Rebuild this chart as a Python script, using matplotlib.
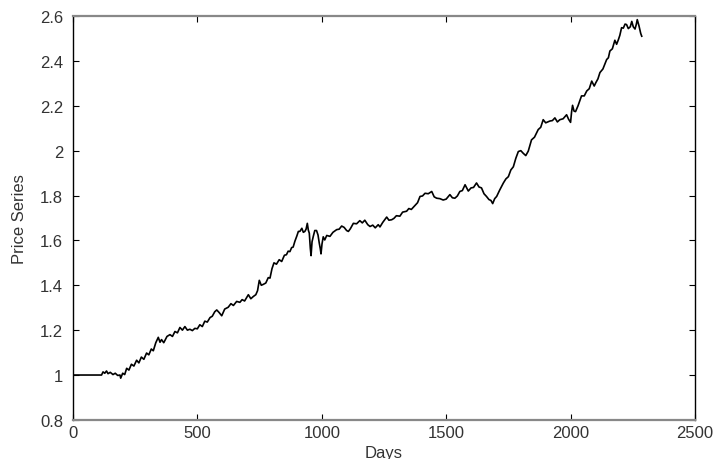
import matplotlib
matplotlib.use("Agg")
import matplotlib.pyplot as plt
from matplotlib.ticker import FuncFormatter

plt.rcParams['font.family'] = ['Liberation Sans', 'DejaVu Sans']

# price series (day, value)
days = [0, 115, 121, 128, 135, 141, 150, 161, 170, 180,
        189, 192, 200, 208, 216, 225, 235, 245, 256, 265,
        275, 285, 296, 305, 315, 323, 333, 343, 350, 356,
        365, 378, 390, 400, 410, 420, 430, 440, 450, 460,
        470, 480, 490, 500, 510, 520, 530, 540, 551, 560,
        570, 578, 588, 598, 610, 624, 635, 645, 658, 671,
        680, 690, 705, 715, 725, 735, 742, 749, 757, 765,
        775, 785, 792, 800, 808, 818, 829, 839, 850, 858,
        865, 872, 879, 885, 892, 900, 906, 912, 920, 926,
        932, 937, 942, 946, 950, 954, 957, 961, 966, 972,
        979, 985, 990, 994, 997, 1001, 1006, 1012, 1020, 1033,
        1045, 1060, 1070, 1080, 1090, 1100, 1107, 1115, 1127, 1140,
        1153, 1163, 1173, 1185, 1194, 1205, 1215, 1227, 1234, 1245,
        1261, 1270, 1281, 1290, 1300, 1314, 1325, 1341, 1350, 1360,
        1375, 1385, 1395, 1405, 1415, 1428, 1442, 1452, 1462, 1475,
        1488, 1500, 1515, 1525, 1535, 1545, 1555, 1565, 1576, 1589,
        1600, 1610, 1622, 1632, 1642, 1652, 1662, 1672, 1680, 1687,
        1695, 1703, 1715, 1730, 1740, 1750, 1760, 1770, 1780, 1790,
        1800, 1810, 1820, 1830, 1843, 1855, 1870, 1880, 1890, 1900,
        1917, 1927, 1937, 1947, 1957, 1970, 1984, 1992, 2000, 2004,
        2008, 2014, 2020, 2030, 2044, 2055, 2065, 2075, 2085, 2095,
        2102, 2110, 2118, 2130, 2145, 2152, 2158, 2168, 2178, 2185,
        2192, 2198, 2205, 2212, 2219, 2225, 2232, 2240, 2246, 2252,
        2259, 2264, 2268, 2275, 2282, 2286]

price = [1.0, 1.0, 1.014, 1.008, 1.018, 1.006, 1.012, 1.002, 1.008, 0.998,
         1.000, 0.986, 1.008, 1.002, 1.030, 1.022, 1.048, 1.040, 1.066, 1.054,
         1.080, 1.070, 1.098, 1.090, 1.116, 1.108, 1.144, 1.168, 1.146, 1.158,
         1.144, 1.172, 1.180, 1.172, 1.194, 1.188, 1.212, 1.200, 1.216, 1.200,
         1.204, 1.198, 1.208, 1.206, 1.224, 1.216, 1.240, 1.236, 1.256, 1.262,
         1.282, 1.290, 1.278, 1.264, 1.294, 1.302, 1.318, 1.310, 1.328, 1.324,
         1.336, 1.330, 1.358, 1.340, 1.350, 1.358, 1.376, 1.422, 1.400, 1.404,
         1.410, 1.434, 1.432, 1.474, 1.500, 1.494, 1.514, 1.506, 1.534, 1.536,
         1.552, 1.550, 1.568, 1.570, 1.596, 1.620, 1.640, 1.640, 1.654, 1.636,
         1.640, 1.650, 1.676, 1.646, 1.632, 1.566, 1.532, 1.594, 1.618, 1.644,
         1.644, 1.624, 1.588, 1.564, 1.540, 1.584, 1.616, 1.602, 1.622, 1.618,
         1.636, 1.648, 1.650, 1.664, 1.658, 1.644, 1.640, 1.652, 1.676, 1.674,
         1.688, 1.678, 1.690, 1.670, 1.662, 1.668, 1.656, 1.670, 1.660, 1.680,
         1.704, 1.690, 1.692, 1.698, 1.710, 1.708, 1.726, 1.730, 1.742, 1.738,
         1.756, 1.768, 1.796, 1.798, 1.810, 1.808, 1.818, 1.794, 1.788, 1.786,
         1.780, 1.784, 1.804, 1.790, 1.788, 1.798, 1.818, 1.822, 1.848, 1.820,
         1.834, 1.836, 1.856, 1.838, 1.834, 1.808, 1.796, 1.782, 1.778, 1.764,
         1.786, 1.796, 1.824, 1.856, 1.874, 1.884, 1.914, 1.928, 1.966, 1.996,
         2.000, 1.988, 1.978, 1.998, 2.048, 2.060, 2.094, 2.104, 2.138, 2.124,
         2.132, 2.134, 2.146, 2.128, 2.138, 2.142, 2.160, 2.140, 2.126, 2.172,
         2.202, 2.176, 2.174, 2.200, 2.244, 2.244, 2.266, 2.276, 2.310, 2.288,
         2.304, 2.320, 2.348, 2.364, 2.406, 2.414, 2.444, 2.454, 2.492, 2.474,
         2.494, 2.514, 2.548, 2.546, 2.564, 2.562, 2.544, 2.552, 2.576, 2.552,
         2.542, 2.562, 2.584, 2.556, 2.522, 2.510]

fig = plt.figure(figsize=(7.15, 4.6), dpi=100)
ax = fig.add_axes([0.102, 0.085, 0.870, 0.878])

ax.plot(days, price, color='black', lw=1.2)

ax.set_xlim(0, 2500)
ax.set_ylim(0.8, 2.6)
ax.set_xticks([0, 500, 1000, 1500, 2000, 2500])
ax.set_yticks([0.8, 1.0, 1.2, 1.4, 1.6, 1.8, 2.0, 2.2, 2.4, 2.6])
ax.yaxis.set_major_formatter(FuncFormatter(lambda v, p: '%g' % round(v, 1)))

ax.tick_params(direction='in', top=True, right=True, length=4,
               labelsize=12, labelcolor='#333333')
ax.tick_params(axis='y', pad=7)
ax.tick_params(axis='x', pad=4)

for side in ['top', 'bottom']:
    ax.spines[side].set_color('#888888')
    ax.spines[side].set_linewidth(1.6)
for side in ['left', 'right']:
    ax.spines[side].set_color('black')
    ax.spines[side].set_linewidth(1.0)

ax.set_xlabel('Days', fontsize=12, color='#333333', labelpad=3)
ax.set_ylabel('Price Series', fontsize=12, color='#333333', labelpad=9)

fig.savefig('out.png', dpi=100)
